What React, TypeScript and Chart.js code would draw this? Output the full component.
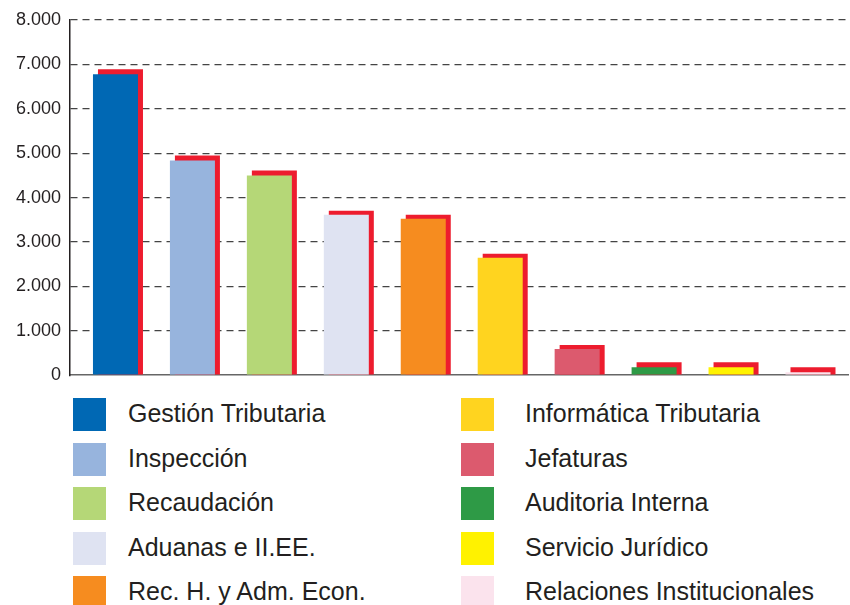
import React, { useEffect, useRef } from "react";
import { Chart, registerables } from "chart.js";

Chart.register(...registerables);

const categories = [
  "Gestión Tributaria",
  "Inspección",
  "Recaudación",
  "Aduanas e II.EE.",
  "Rec. H. y Adm. Econ.",
  "Informática Tributaria",
  "Jefaturas",
  "Auditoria Interna",
  "Servicio Jurídico",
  "Relaciones Institucionales",
];
const values = [6780, 4836, 4497, 3616, 3525, 2644, 588, 181, 181, 68];
const shadowValues = [6890, 4950, 4610, 3706, 3616, 2734, 678, 294, 294, 181];
const colors = [
  "#0068b4",
  "#97b4dd",
  "#b5d777",
  "#dfe3f2",
  "#f68c1f",
  "#ffd41f",
  "#dc5a6e",
  "#2e9a46",
  "#fff200",
  "#fbe3ed",
];
const shadowColor = "#ed1c2e";
const yTickLabels = ["0", "1.000", "2.000", "3.000", "4.000", "5.000", "6.000", "7.000", "8.000"];

const shadowPlugin = {
  id: "shadowShift",
  beforeDatasetDraw(chart: any, args: any) {
    if (args.index === 1) {
      chart.ctx.save();
      chart.ctx.translate(5, 0);
    }
  },
  afterDatasetDraw(chart: any, args: any) {
    if (args.index === 1) chart.ctx.restore();
  },
};

export default function App() {
  const ref = useRef<HTMLCanvasElement>(null);
  useEffect(() => {
    const chart = new Chart(ref.current!, {
      type: "bar",
      data: {
        datasets: [
          {
            label: "Valor",
            data: values.map((v, i) => ({ x: i, y: v })),
            backgroundColor: colors,
            grouped: false,
            order: 0,
            barPercentage: 0.585,
            categoryPercentage: 1,
          },
          {
            label: "Sombra",
            data: shadowValues.map((v, i) => ({ x: i, y: v })),
            backgroundColor: shadowColor,
            grouped: false,
            order: 1,
            barPercentage: 0.585,
            categoryPercentage: 1,
          },
        ] as any,
      },
      options: {
        animation: false,
        responsive: false,
        layout: { padding: { top: 20, right: 2, bottom: 2, left: 0 } },
        plugins: { legend: { display: false }, tooltip: { enabled: false } },
        scales: {
          x: {
            type: "linear",
            min: -0.591,
            max: 9.52,
            offset: false,
            grid: { display: false, drawTicks: false },
            ticks: { display: false },
            border: { color: "#666", width: 1.5 },
            afterFit: (s: any) => {
              s.height = 0;
            },
          } as any,
          y: {
            min: 0,
            max: 8000,
            ticks: {
              stepSize: 1000,
              padding: 9,
              color: "#231f20",
              font: { family: "Liberation Sans, Arial, sans-serif", size: 18 },
              callback: (_v: any, i: number) => yTickLabels[i],
            },
            grid: {
              drawTicks: false,
              color: (c: any) => (c.tick && c.tick.value === 0 ? "rgba(0,0,0,0)" : "#444"),
              lineWidth: 1.3,
            },
            border: { color: "#231f20", width: 1.5, dash: [7, 5] },
            afterFit: (s: any) => {
              s.width = 70;
            },
          } as any,
        },
      },
      plugins: [shadowPlugin],
    });
    return () => chart.destroy();
  }, []);

  const legendItem = (i: number) => {
    const col = i < 5 ? 0 : 1;
    const row = i % 5;
    const left = col === 0 ? 73 : 461;
    const textLeft = col === 0 ? 128 : 525;
    const top = 398 + row * 44.6;
    const name = categories[i];
    return (
      <React.Fragment key={i}>
        <div
          style={{
            position: "absolute",
            left,
            top,
            width: 33,
            height: 33,
            background: colors[i],
          }}
        />
        <div
          style={{
            position: "absolute",
            left: textLeft,
            top: top + 15,
            transform: "translateY(-50%)",
            fontFamily: "Liberation Sans, Arial, sans-serif",
            fontSize: 25,
            color: "#231f20",
            whiteSpace: "nowrap",
            lineHeight: 1,
          }}
        >
          {name}
        </div>
      </React.Fragment>
    );
  };

  return (
    <div style={{ position: "fixed", left: 0, top: 0, width: 850, height: 605, background: "#fff", overflow: "hidden" }}>
      <canvas ref={ref} width={850} height={395} style={{ position: "absolute", left: 0, top: 0 }} />
      {categories.map((_, i) => legendItem(i))}
    </div>
  );
}
